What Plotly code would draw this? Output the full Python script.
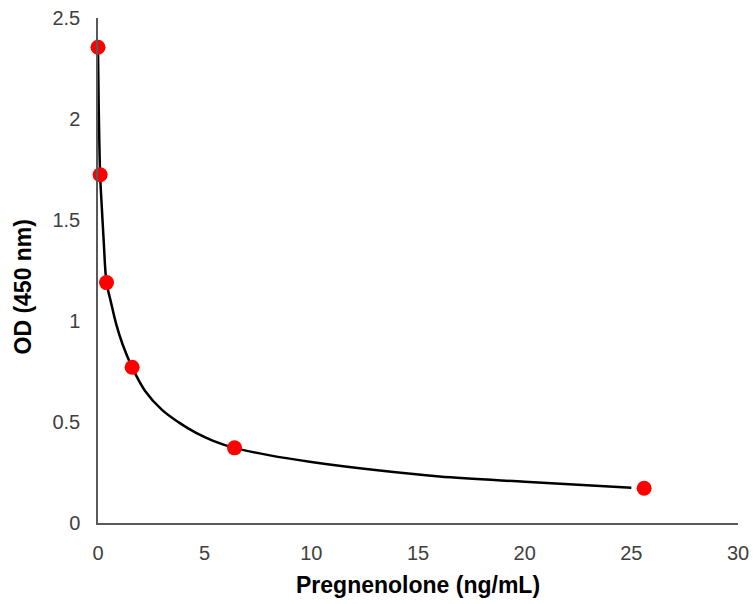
import plotly.graph_objects as go

# Standard points (concentration ng/mL, OD 450 nm)
std_conc = [0, 0.1, 0.4, 1.6, 6.4, 25.6]
std_od = [2.355, 1.724, 1.19, 0.771, 0.372, 0.172]

# Fitted curve
curve_conc = [0, 0.03, 0.06, 0.1, 0.18, 0.27, 0.4, 0.6, 0.85, 1.15, 1.6,
              2.2, 3.0, 3.8, 4.6, 5.4, 6.4, 8.0, 10.0, 13.0, 16.0, 20.0, 25.0]
curve_od = [2.34, 2.08, 1.90, 1.724, 1.56, 1.39, 1.19, 1.096, 0.986, 0.885, 0.771,
            0.655, 0.560, 0.497, 0.446, 0.407, 0.372, 0.336, 0.302, 0.262, 0.230,
            0.204, 0.175]

x_ticks = [0, 5, 10, 15, 20, 25, 30]
y_ticks = [0, 0.5, 1, 1.5, 2, 2.5]

fig = go.Figure()
fig.add_trace(go.Scatter(x=curve_conc, y=curve_od, mode="lines",
                         line=dict(color="black", width=2.5, shape="spline", smoothing=1.0),
                         hoverinfo="skip", showlegend=False, cliponaxis=False))
fig.add_trace(go.Scatter(x=std_conc, y=std_od, mode="markers",
                         marker=dict(color="#FF0000", size=15, line=dict(width=0)),
                         showlegend=False, cliponaxis=False))

font = "Liberation Sans, Arial, sans-serif"
fig.update_layout(
    width=753, height=604,
    margin=dict(l=98, r=15, t=18, b=81),
    paper_bgcolor="white", plot_bgcolor="white",
    font=dict(family=font, size=20, color="#404040"),
    xaxis=dict(range=[0, 30], tickvals=x_ticks, showgrid=False, zeroline=False,
               showline=True, linecolor="#595959", linewidth=1.5, automargin=False,
               ticks="outside", ticklen=11, tickcolor="rgba(0,0,0,0)"),
    yaxis=dict(range=[0, 2.5], tickvals=y_ticks, showgrid=False, zeroline=False,
               showline=True, linecolor="#595959", linewidth=1.5, automargin=False,
               ticks="outside", ticklen=12, tickcolor="rgba(0,0,0,0)"),
    annotations=[
        dict(text="<b>Pregnenolone (ng/mL)</b>", xref="paper", yref="paper",
             x=0.5, y=-(585 - 523) / 505, xanchor="center", yanchor="middle", showarrow=False,
             font=dict(family=font, size=23, color="black")),
        dict(text="<b>OD (450 nm)</b>", xref="paper", yref="paper",
             x=-(98 - 22.5) / 640, y=(523 - 287) / 505, xanchor="center", yanchor="middle",
             textangle=-90, showarrow=False,
             font=dict(family=font, size=23, color="black")),
    ],
)

fig.write_html(
    "out.html",
    config={"displayModeBar": False},
    post_script="document.body.style.margin='0';document.body.style.padding='0';"
                "document.body.style.overflow='hidden';",
)
